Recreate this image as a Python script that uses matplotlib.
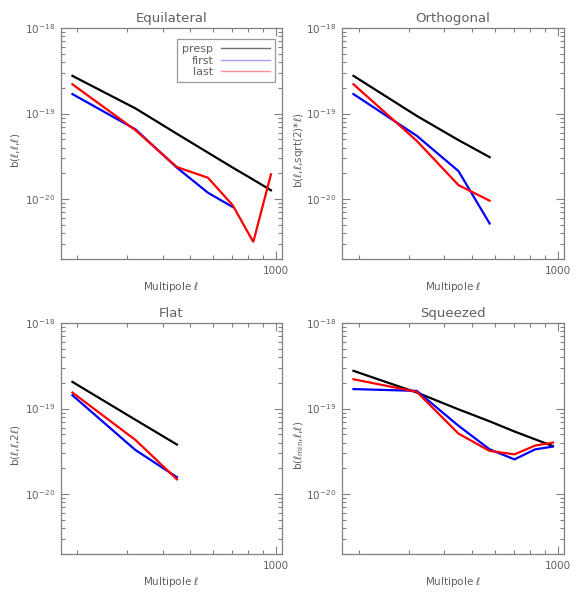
import matplotlib
matplotlib.use("Agg")
import matplotlib.pyplot as plt
from matplotlib.ticker import FixedLocator, NullFormatter, FixedFormatter

# ---- data ----
ell = [192, 320, 448, 576, 704, 832, 960]

equi_presp = [2.76e-19, 1.15e-19, 5.8e-20, 3.5e-20, 2.34e-20, 1.69e-20, 1.27e-20]
equi_first = [1.69e-19, 6.55e-20, 2.33e-20, 1.19e-20, 8.1e-21]
equi_last = [2.2e-19, 6.4e-20, 2.37e-20, 1.78e-20, 8.5e-21, 3.16e-21, 1.95e-20]

orth_presp = [2.76e-19, 9.4e-20, 4.9e-20, 3.1e-20]
orth_first = [1.69e-19, 5.5e-20, 2.13e-20, 5.2e-21]
orth_last = [2.2e-19, 4.8e-20, 1.46e-20, 9.6e-21]

flat_presp = [2.05e-19, 7.4e-20, 3.8e-20]
flat_first = [1.43e-19, 3.28e-20, 1.58e-20]
flat_last = [1.54e-19, 4.3e-20, 1.49e-20]

sqz_presp = [2.76e-19, 1.54e-19, 9.8e-20, 7.1e-20, 5.4e-20, 4.37e-20, 3.65e-20]
sqz_first = [1.69e-19, 1.61e-19, 6.3e-20, 3.34e-20, 2.55e-20, 3.34e-20, 3.6e-20]
sqz_last = [2.2e-19, 1.57e-19, 5.1e-20, 3.2e-20, 2.92e-20, 3.7e-20, 4.0e-20]

titles = ["Equilateral", "Orthogonal", "Flat", "Squeezed"]
ylabels = [r"b($\ell$,$\ell$,$\ell$)",
           r"b($\ell$,$\ell$,sqrt(2)*$\ell$)",
           r"b($\ell$,$\ell$,2$\ell$)",
           r"b($\ell_{\rm min}$,$\ell$,$\ell$)"]
xlabel = r"Multipole $\ell$"
series_names = ["presp", "first", "last"]
series_colors = ["black", "#0000ff", "#ff0000"]
legend_colors = ["#707070", "#a0a0ff", "#ff9090"]

y_major = [1e-20, 1e-19, 1e-18]
x_major = [1000]
x_major_labels = ["1000"]
x_minor = [200, 300, 400, 500, 600, 700, 800, 900]

panels = [
    (equi_presp, equi_first, equi_last),
    (orth_presp, orth_first, orth_last),
    (flat_presp, flat_first, flat_last),
    (sqz_presp, sqz_first, sqz_last),
]

W, H = 581, 597
fig = plt.figure(figsize=(W / 100, H / 100), dpi=100)

gray = "#606060"
axcol = "#808080"
plt.rcParams["mathtext.fontset"] = "dejavusans"

# axes boxes in pixels: (left, top, right, bottom)
boxes = [(61, 28, 282, 259), (342, 28, 564, 259),
         (61, 323, 282, 554), (342, 323, 564, 554)]
ylabel_px = [22, 306, 22, 306]

y_minor = [m * 10.0 ** e for e in (-21, -20, -19) for m in range(2, 10)]
y_minor = [v for v in y_minor if 2e-21 <= v <= 1e-18]

for i, (box, data) in enumerate(zip(boxes, panels)):
    l, t, r, b = box
    ax = fig.add_axes([l / W, 1 - b / H, (r - l) / W, (b - t) / H])
    ax.set_xscale("log")
    ax.set_yscale("log")
    for name, col, ys in zip(series_names, series_colors, data):
        ax.plot(ell[:len(ys)], ys, color=col, lw=1.6, label=name,
                solid_joinstyle="miter")
    ax.set_xlim(175, 1050)
    ax.set_ylim(2e-21, 1e-18)
    ax.xaxis.set_major_locator(FixedLocator(x_major))
    ax.xaxis.set_major_formatter(FixedFormatter(x_major_labels))
    ax.xaxis.set_minor_locator(FixedLocator(x_minor))
    ax.xaxis.set_minor_formatter(NullFormatter())
    ax.yaxis.set_major_locator(FixedLocator(y_major))
    ax.yaxis.set_minor_locator(FixedLocator(y_minor))
    ax.yaxis.set_minor_formatter(NullFormatter())
    ax.tick_params(which="both", direction="in", top=True, right=True,
                   colors=axcol, labelcolor=gray, labelsize=7.5, width=0.8)
    ax.tick_params(which="major", length=6)
    ax.tick_params(which="minor", length=3)
    ax.tick_params(axis="x", pad=5)
    ax.tick_params(axis="y", pad=4)
    for s in ax.spines.values():
        s.set_color(axcol)
        s.set_linewidth(0.9)
    ax.set_title(titles[i], color=gray, fontsize=9.5, pad=4)
    ax.set_xlabel(xlabel, color=gray, fontsize=7.5, labelpad=3)
    ax.set_ylabel(ylabels[i], color=gray, fontsize=7.5)
    ax.yaxis.set_label_coords((ylabel_px[i] - l) / (r - l), 0.47)
    if i == 0:
        leg = ax.legend(loc="upper right", markerfirst=False, frameon=True,
                        fancybox=False, fontsize=8, handlelength=4.4,
                        borderpad=0.45, labelspacing=0.15, handletextpad=0.7,
                        borderaxespad=0.0,
                        bbox_to_anchor=((275 - l) / (r - l), 1 - (39 - t) / (b - t)))
        leg.get_frame().set_edgecolor(axcol)
        leg.get_frame().set_linewidth(0.9)
        for txt in leg.get_texts():
            txt.set_color(gray)
            txt.set_ha("right")
        for ln, col in zip(leg.get_lines(), legend_colors):
            ln.set_linewidth(1.0)
            ln.set_color(col)

fig.savefig("out.png", dpi=100)
